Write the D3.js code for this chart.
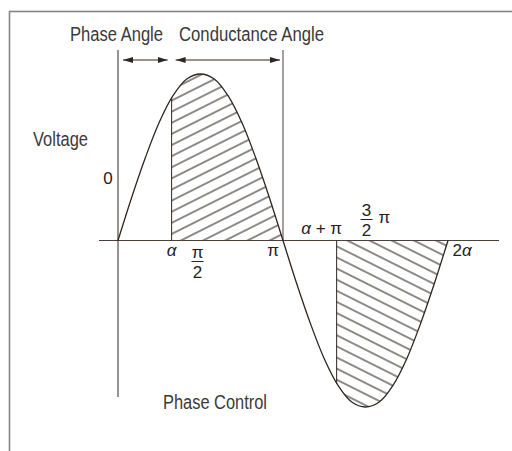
<!DOCTYPE html>
<html>
<head>
<meta charset="utf-8">
<script src="https://cdn.jsdelivr.net/npm/d3@7"></script>
<style>
  body { margin: 0; background: #fff; }
  .narrow { font-family: "Liberation Sans", Arial, sans-serif; font-size: 19.5px; fill: #3a3a3a; }
  .math { font-family: "Liberation Sans", Arial, sans-serif; font-size: 17px; fill: #222; }
</style>
</head>
<body>
<svg id="chart"></svg>
<script>
// Phase angle in units of pi
const alpha = 0.325;
const alphaLevel = 0.86;

// Wave samples: angle (units of pi) and relative voltage
const angles = [0, 1/12, 2/12, 3/12, 4/12, 5/12, 6/12, 7/12, 8/12, 9/12, 10/12, 11/12, 1,
  13/12, 14/12, 15/12, 16/12, 17/12, 18/12, 19/12, 20/12, 21/12, 22/12, 23/12, 2];
const voltage = [0, 0.26, 0.5, 0.71, 0.87, 0.97, 1, 0.97, 0.87, 0.71, 0.5, 0.26, 0,
  -0.26, -0.5, -0.71, -0.87, -0.97, -1, -0.97, -0.87, -0.71, -0.5, -0.26, 0];

// Tick labels along the axis
const tickLabels = [
  { at: alpha, num: "α", dx: 0, dy: 15, italic: true },
  { at: 0.5, num: "π", dx: -3, dy: 17, italic: false, frac: "2" },
  { at: 1, num: "π", dx: -10, dy: 15, italic: false },
  { at: 1 + alpha, num: "α + π", dx: -15, dy: -7, italic: true },
  { at: 1.5, num: "3", dx: 1, dy: -25, italic: false, frac: "2", suffix: "π" },
  { at: 2, num: "2α", dx: 14, dy: 15, italic: false }
];

// caption texts with their set widths
const captions = [
  { text: "Phase Angle", x: 70, y: 41, w: 93 },
  { text: "Conductance Angle", x: 179, y: 41, w: 145 },
  { text: "Voltage", x: 33, y: 146, w: 55 },
  { text: "Phase Control", x: 163, y: 409, w: 104 }
];

const W = 512, H = 451;
const svg = d3.select("#chart").attr("width", W).attr("height", H);

const x = d3.scaleLinear().domain([0, 2]).range([118, 448]);
const y = d3.scaleLinear().domain([-1, 1]).range([407, 74]);

const wave = angles.map((a, i) => ({ a: a, v: voltage[i] }));
const ink = "#2e2623";

// hatch patterns
const defs = svg.append("defs");
const ang = 26.6, step = 9.94;
function hatch(id, rot, c) {
  const p = defs.append("pattern")
    .attr("id", id)
    .attr("patternUnits", "userSpaceOnUse")
    .attr("width", 40)
    .attr("height", step)
    .attr("y", c - step / 2)
    .attr("patternTransform", `rotate(${rot})`);
  p.append("line")
    .attr("x1", -1).attr("x2", 41)
    .attr("y1", step / 2).attr("y2", step / 2)
    .attr("stroke", "#1c1512").attr("stroke-width", 1.1);
}
hatch("hatchUp", -ang, 296);
hatch("hatchDown", ang, 49.6);

// arrow markers
["arrowEnd", "arrowStart"].forEach((id, i) => {
  defs.append("marker")
    .attr("id", id)
    .attr("viewBox", "0 0 10 6")
    .attr("refX", i === 0 ? 10 : 0).attr("refY", 3)
    .attr("markerWidth", 10).attr("markerHeight", 6)
    .attr("markerUnits", "userSpaceOnUse")
    .attr("orient", "auto")
    .append("path")
    .attr("d", i === 0 ? "M0,0 L10,3 L0,6 Z" : "M10,0 L0,3 L10,6 Z")
    .attr("fill", ink);
});

// frame
svg.append("rect")
  .attr("x", 9.5).attr("y", 11.5)
  .attr("width", 540).attr("height", 480)
  .attr("fill", "none")
  .attr("stroke", "#858585")
  .attr("stroke-width", 1.6);

const area = d3.area()
  .x(d => x(d.a))
  .y0(y(0))
  .y1(d => y(d.v))
  .curve(d3.curveCatmullRom);

// conducting regions
const posPart = [{ a: alpha, v: alphaLevel }].concat(wave.filter(d => d.a > alpha && d.a <= 1));
const negPart = [{ a: 1 + alpha, v: -alphaLevel }].concat(wave.filter(d => d.a > 1 + alpha));

svg.append("path").attr("d", area(posPart)).attr("fill", "url(#hatchUp)");
svg.append("path").attr("d", area(negPart)).attr("fill", "url(#hatchDown)");

// axes
svg.append("line")
  .attr("x1", x(0) - 19).attr("x2", x(2) + 51)
  .attr("y1", y(0)).attr("y2", y(0))
  .attr("stroke", "#4a403c").attr("stroke-width", 1);
svg.append("line")
  .attr("x1", x(0)).attr("x2", x(0))
  .attr("y1", y(1) - 24).attr("y2", y(-1) - 10)
  .attr("stroke", ink).attr("stroke-width", 1);
svg.append("line")
  .attr("x1", x(1)).attr("x2", x(1))
  .attr("y1", y(1) - 24).attr("y2", y(0))
  .attr("stroke", "#4a403c").attr("stroke-width", 1);

// firing edges
[[alpha, alphaLevel], [1 + alpha, -alphaLevel]].forEach(([a, v]) => {
  svg.append("line")
    .attr("x1", x(a)).attr("x2", x(a))
    .attr("y1", y(0)).attr("y2", y(v))
    .attr("stroke", ink).attr("stroke-width", 1);
});

// wave
svg.append("path")
  .attr("d", d3.line().x(d => x(d.a)).y(d => y(d.v)).curve(d3.curveCatmullRom)(wave))
  .attr("fill", "none")
  .attr("stroke", ink)
  .attr("stroke-width", 1.3);

// angle arrows
const arrowY = 60;
[[x(0) + 5, x(alpha) - 4], [x(alpha) + 4, x(1) - 3]].forEach(([a, b]) => {
  svg.append("line")
    .attr("x1", a).attr("x2", b)
    .attr("y1", arrowY).attr("y2", arrowY)
    .attr("stroke", ink).attr("stroke-width", 1.2)
    .attr("marker-start", "url(#arrowStart)")
    .attr("marker-end", "url(#arrowEnd)");
});

// captions (condensed)
svg.selectAll("text.narrow")
  .data(captions)
  .enter()
  .append("text")
  .attr("class", "narrow")
  .attr("x", d => d.x)
  .attr("y", d => d.y)
  .attr("textLength", d => d.w)
  .attr("lengthAdjust", "spacingAndGlyphs")
  .text(d => d.text);

svg.append("text").attr("class", "math").attr("x", x(0) - 10).attr("y", 184)
  .attr("font-size", "18px")
  .attr("text-anchor", "middle").text("0");

// tick labels
tickLabels.forEach(t => {
  const cx = x(t.at) + t.dx;
  const by = y(0) + t.dy;
  const txt = svg.append("text").attr("class", "math")
    .attr("x", cx).attr("y", by).attr("text-anchor", "middle");
  if (t.num === "2α") {
    txt.append("tspan").text("2");
    txt.append("tspan").attr("font-style", "italic").text("α");
  } else if (t.num === "α + π") {
    txt.append("tspan").attr("font-style", "italic").text("α");
    txt.append("tspan").text(" + π");
  } else {
    txt.attr("font-style", t.italic ? "italic" : null).text(t.num);
  }
  if (t.frac) {
    svg.append("line")
      .attr("x1", cx - 6).attr("x2", cx + 6)
      .attr("y1", by + 4).attr("y2", by + 4)
      .attr("stroke", "#222").attr("stroke-width", 1);
    svg.append("text").attr("class", "math")
      .attr("x", cx).attr("y", by + 20).attr("text-anchor", "middle").text(t.frac);
  }
  if (t.suffix) {
    svg.append("text").attr("class", "math")
      .attr("x", cx + 12).attr("y", by + 7).text(t.suffix);
  }
});
</script>
</body>
</html>
